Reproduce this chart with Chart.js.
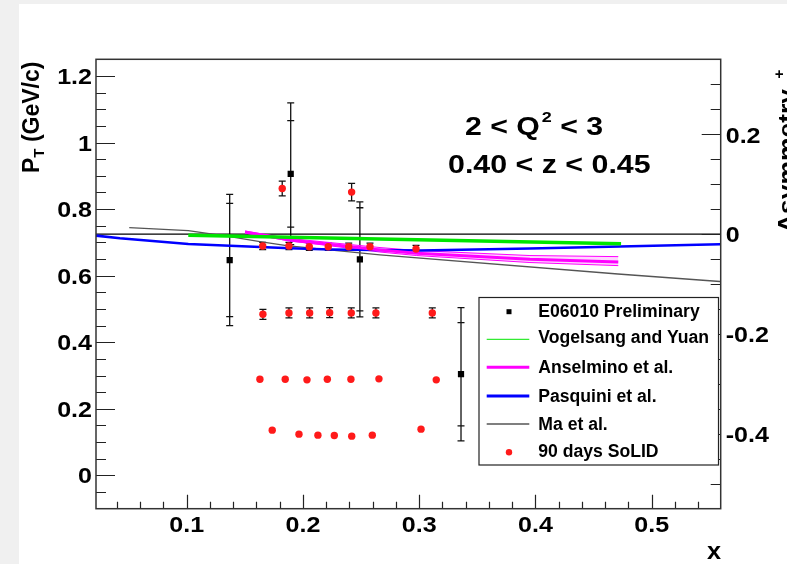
<!DOCTYPE html>
<html>
<head>
<meta charset="utf-8">
<script src="https://cdn.jsdelivr.net/npm/chart.js@4.4.1/dist/chart.umd.min.js"></script>
<style>
  html, body { margin: 0; padding: 0; background: #f0f0f0; }
  canvas { display: block; }
</style>
</head>
<body>
<canvas id="c" width="787" height="564"></canvas>
<script>
// ---- axis ranges ----
const xRange  = [0.022, 0.5594];
const ptRange = [-0.1, 1.25];
const asyRange = [-0.55, 0.35];

// ---- tick labels ----
const xTickLabels  = ['0.1', '0.2', '0.3', '0.4', '0.5'];
const ptTickLabels = ['0', '0.2', '0.4', '0.6', '0.8', '1', '1.2'];
const asyTickLabels = ['-0.4', '-0.2', '0', '0.2'];

// ---- E06010 preliminary (P_T scale) ----
const e06010X    = [0.137, 0.1895, 0.249, 0.336];
const e06010PT   = [0.647, 0.906, 0.649, 0.304];
const e06010Stat = [0.170, 0.160, 0.155, 0.155];
const e06010Tot  = [0.197, 0.213, 0.173, 0.200];

// ---- 90 days SoLID projection (P_T scale) ----
const solidX = [
  0.1654, 0.188, 0.2055, 0.2218, 0.2394, 0.2577, 0.2973,
  0.1656, 0.188, 0.2058, 0.223, 0.2416, 0.2628, 0.3113,
  0.163, 0.1848, 0.2035, 0.221, 0.2413, 0.2654, 0.3147,
  0.1736, 0.1966, 0.2129, 0.227, 0.242, 0.2597, 0.3016,
  0.1822, 0.2419
];
const solidPT = [
  0.689, 0.689, 0.687, 0.687, 0.687, 0.687, 0.680,
  0.484, 0.488, 0.488, 0.489, 0.488, 0.488, 0.488,
  0.289, 0.289, 0.287, 0.289, 0.289, 0.290, 0.287,
  0.136, 0.124, 0.121, 0.120, 0.118, 0.121, 0.139,
  0.862, 0.851
];
const solidErr = [
  0.011, 0.011, 0.011, 0.011, 0.011, 0.011, 0.011,
  0.015, 0.015, 0.015, 0.015, 0.015, 0.015, 0.015,
  0, 0, 0, 0, 0, 0, 0,
  0, 0, 0, 0, 0, 0, 0,
  0.022, 0.026
];

// ---- model curves (asymmetry scale) ----
const zeroX = [xRange[0], xRange[1]];
const zeroA = [0, 0];

const vyX = [0.1014, 0.4737];
const vyA = [-0.0024, -0.0196];

const anselX     = [0.1502, 0.1889, 0.2147, 0.2663, 0.2979, 0.3953, 0.4713];
const anselA     = [0.0042, -0.0118, -0.0184, -0.0318, -0.0384, -0.0504, -0.0558];
const anselUpper = [0.006, -0.009, -0.015, -0.027, -0.033, -0.043, -0.0452];
const anselLower = [0.002, -0.014, -0.021, -0.036, -0.043, -0.057, -0.0632];

const pasqX = [0.022, 0.0426, 0.1014, 0.1889, 0.2233, 0.3007, 0.3953, 0.4728, 0.5588];
const pasqA = [-0.0032, -0.0084, -0.0198, -0.0284, -0.0308, -0.0328, -0.0288, -0.0248, -0.0204];

const maX = [0.0506, 0.1014, 0.1372, 0.163, 0.186, 0.2032, 0.2663, 0.471, 0.5588];
const maA = [0.0128, 0.0068, -0.0052, -0.015, -0.023, -0.027, -0.0418, -0.08, -0.095];

// ---- legend entries ----
const legendLabels = ['E06010 Preliminary', 'Vogelsang and Yuan', 'Anselmino et al.',
                      'Pasquini et al.', 'Ma et al.', '90 days SoLID'];

const pts = (xs, ys) => xs.map((x, i) => ({ x, y: ys[i] }));
const FONT = '"Liberation Sans", Arial, Helvetica, sans-serif';

const C_GREEN = '#00e600', C_MAG = '#ff00ff', C_BLUE = '#0000ff', C_MA = '#555555', C_RED = '#ff1a1a';

function drawText(ctx, text, x, y, font, opts = {}) {
  ctx.save();
  ctx.translate(x, y);
  if (opts.rotate) ctx.rotate(opts.rotate);
  ctx.scale(opts.sx || 1, 1);
  ctx.font = font;
  ctx.textAlign = opts.align || 'left';
  ctx.textBaseline = 'alphabetic';
  ctx.fillStyle = '#000';
  ctx.fillText(text, 0, 0);
  const w = ctx.measureText(text).width * (opts.sx || 1);
  ctx.restore();
  return w;
}

const decor = {
  id: 'decor',
  beforeDraw(chart) {
    const ctx = chart.ctx;
    ctx.save();
    ctx.fillStyle = '#ffffff';
    ctx.fillRect(19, 4, chart.width - 19, chart.height - 4);
    ctx.restore();
  },
  beforeDatasetsDraw(chart) {
    const { ctx, scales } = chart;
    const sx = scales.x, sy = scales.y;
    ctx.save();
    ctx.strokeStyle = '#111';
    ctx.lineWidth = 1.3;
    const cap = (x, y, h) => { ctx.moveTo(x - h, y); ctx.lineTo(x + h, y); };
    // E06010: total bars with stat and total caps
    e06010X.forEach((xv, i) => {
      const x = sx.getPixelForValue(xv);
      const yv = e06010PT[i];
      ctx.beginPath();
      ctx.moveTo(x, sy.getPixelForValue(yv + e06010Tot[i]));
      ctx.lineTo(x, sy.getPixelForValue(yv - e06010Tot[i]));
      cap(x, sy.getPixelForValue(yv + e06010Tot[i]), 3.5);
      cap(x, sy.getPixelForValue(yv - e06010Tot[i]), 3.5);
      cap(x, sy.getPixelForValue(yv + e06010Stat[i]), 3.5);
      cap(x, sy.getPixelForValue(yv - e06010Stat[i]), 3.5);
      ctx.stroke();
    });
    // SoLID bars
    solidX.forEach((xv, i) => {
      const e = solidErr[i];
      if (!e) return;
      const x = sx.getPixelForValue(xv);
      const y1 = sy.getPixelForValue(solidPT[i] + e), y2 = sy.getPixelForValue(solidPT[i] - e);
      ctx.beginPath();
      ctx.moveTo(x, y1); ctx.lineTo(x, y2);
      cap(x, y1, 3.5); cap(x, y2, 3.5);
      ctx.stroke();
    });
    ctx.restore();
  },
  afterDraw(chart) {
    const { ctx, chartArea: a, scales } = chart;
    const sx = scales.x, sy = scales.y, sa = scales.y2;
    ctx.save();
    ctx.strokeStyle = '#222';
    ctx.lineWidth = 1.2;
    ctx.beginPath();
    // bottom axis ticks (minor every 0.02, major every 0.1)
    for (let i = 1; i * 0.02 < xRange[1]; i++) {
      const v = i * 0.02;
      if (v <= xRange[0]) continue;
      const px = Math.round(sx.getPixelForValue(v)) + 0.5;
      ctx.moveTo(px, a.bottom);
      ctx.lineTo(px, a.bottom - (i % 5 === 0 ? 14 : 7));
    }
    // left axis ticks (minor every 0.05, major every 0.2)
    for (let i = -1; i * 0.05 < ptRange[1] - 1e-9; i++) {
      const py = Math.round(sy.getPixelForValue(i * 0.05)) + 0.5;
      ctx.moveTo(a.left, py);
      ctx.lineTo(a.left + (i % 4 === 0 ? 19 : 10), py);
    }
    // right axis ticks
    for (let i = -10; i * 0.05 < asyRange[1] - 1e-9; i++) {
      const py = Math.round(sa.getPixelForValue(i * 0.05)) + 0.5;
      ctx.moveTo(a.right, py);
      ctx.lineTo(a.right - (i % 4 === 0 ? 19 : 10), py);
    }
    ctx.stroke();
    // frame
    ctx.lineWidth = 1.5;
    ctx.strokeStyle = '#333';
    ctx.strokeRect(a.left, a.top, a.right - a.left, a.bottom - a.top);
    ctx.restore();

    // tick labels
    const tickFont = 'bold 22px ' + FONT;
    xTickLabels.forEach(t => {
      drawText(ctx, t, sx.getPixelForValue(parseFloat(t)), a.bottom + 23, tickFont, { align: 'center', sx: 1.14 });
    });
    ptTickLabels.forEach(t => {
      drawText(ctx, t, a.left - 4, sy.getPixelForValue(parseFloat(t)) + 8, tickFont, { align: 'right', sx: 1.14 });
    });
    asyTickLabels.forEach(t => {
      drawText(ctx, t, a.right + 5, sa.getPixelForValue(parseFloat(t)) + 8.3, tickFont, { align: 'left', sx: 1.14 });
    });

    // axis titles
    drawText(ctx, 'x', 714, 559, 'bold 23px ' + FONT, { align: 'center', sx: 1.1 });
    const rot = -Math.PI / 2;
    // P_T (GeV/c), reading upward
    {
      const bx = 38.5, by = 173;
      let off = 0;
      off += drawText(ctx, 'P', bx, by - off, 'bold 23px ' + FONT, { rotate: rot });
      off += drawText(ctx, 'T', bx + 5, by - off, 'bold 15px ' + FONT, { rotate: rot });
      drawText(ctx, ' (GeV/c)', bx, by - off, 'bold 23px ' + FONT, { rotate: rot });
    }
    // Asymmetry pi+, reading upward
    {
      const bx = 795, by = 233;
      const off = drawText(ctx, 'Asymmetry ', bx, by, 'bold 23px ' + FONT, { rotate: rot, sx: 1.15 });
      drawText(ctx, '\u03C0', bx + 2, by - off, 'bold 17px ' + FONT, { rotate: rot });
      drawText(ctx, '+', bx - 11, by - off - 3, 'bold 15px ' + FONT, { rotate: rot });
    }

    // kinematic bin text
    {
      const f = 'bold 25px ' + FONT, fs = 'bold 15px ' + FONT;
      let x = 465;
      x += drawText(ctx, '2 < Q', x, 135, f, { sx: 1.21 });
      x += 2;
      x += drawText(ctx, '2', x, 122, fs, { sx: 1.2 });
      drawText(ctx, ' < 3', x, 135, f, { sx: 1.21 });
      drawText(ctx, '0.40 < z < 0.45', 448, 172.7, f, { sx: 1.215 });
    }

    // legend
    ctx.save();
    ctx.fillStyle = '#fff';
    ctx.strokeStyle = '#222';
    ctx.lineWidth = 1.2;
    ctx.fillRect(479, 297.5, 239.5, 167.5);
    ctx.strokeRect(479, 297.5, 239.5, 167.5);
    const baselines = [316.7, 343.3, 373.3, 401.7, 430, 456.7];
    const lf = 'bold 17.6px ' + FONT;
    legendLabels.forEach((t, i) => drawText(ctx, t, 538.3, baselines[i], lf));
    const symX0 = 486.7, symX1 = 529.3, symC = 509;
    // square marker
    ctx.fillStyle = '#000';
    ctx.fillRect(symC - 2.5, 311.7 - 2.5, 5, 5);
    // lines
    const seg = (y, color, w) => {
      ctx.beginPath(); ctx.strokeStyle = color; ctx.lineWidth = w;
      ctx.moveTo(symX0, y); ctx.lineTo(symX1, y); ctx.stroke();
    };
    seg(339.3, C_GREEN, 1);
    seg(367.3, C_MAG, 3);
    seg(396, C_BLUE, 3);
    seg(424, C_MA, 1.5);
    // dot marker
    ctx.beginPath(); ctx.fillStyle = C_RED;
    ctx.arc(symC, 452.3, 3.2, 0, Math.PI * 2); ctx.fill();
    ctx.restore();
  }
};

const lineDs = (label, xs, ys, color, width, extra = {}) => Object.assign({
  type: 'line', label, data: pts(xs, ys), yAxisID: 'y2',
  borderColor: color, backgroundColor: color, borderWidth: width,
  pointRadius: 0, tension: 0, fill: false
}, extra);

new Chart(document.getElementById('c'), {
  type: 'scatter',
  data: {
    datasets: [
      { label: '90 days SoLID', data: pts(solidX, solidPT), yAxisID: 'y',
        pointStyle: 'circle', pointRadius: 3.7, borderWidth: 0,
        backgroundColor: C_RED, borderColor: C_RED },
      { label: 'E06010 Preliminary', data: pts(e06010X, e06010PT), yAxisID: 'y',
        pointStyle: 'rect', pointRadius: 4.4, borderWidth: 0,
        backgroundColor: '#000', borderColor: '#000' },
      lineDs('Vogelsang and Yuan', vyX, vyA, C_GREEN, 3.5),
      lineDs('Anselmino et al.', anselX, anselA, C_MAG, 3),
      lineDs('Pasquini et al.', pasqX, pasqA, C_BLUE, 2.6),
      lineDs('Anselmino band upper', anselX, anselUpper, C_MAG, 1,
             { fill: '+1', backgroundColor: 'rgba(255,0,255,0.16)' }),
      lineDs('Anselmino band lower', anselX, anselLower, C_MAG, 1),
      lineDs('Ma et al.', maX, maA, C_MA, 1.3),
      lineDs('zero', zeroX, zeroA, '#000', 1.3)
    ]
  },
  options: {
    responsive: false,
    animation: false,
    devicePixelRatio: 1,
    layout: { padding: { left: 96, top: 59.3, right: 66.3, bottom: 55.3 } },
    plugins: { legend: { display: false }, tooltip: { enabled: false } },
    events: [],
    scales: {
      x:  { type: 'linear', display: false, min: xRange[0], max: xRange[1] },
      y:  { type: 'linear', display: false, min: ptRange[0], max: ptRange[1] },
      y2: { type: 'linear', display: false, position: 'right', min: asyRange[0], max: asyRange[1] }
    }
  },
  plugins: [decor]
});
</script>
</body>
</html>
